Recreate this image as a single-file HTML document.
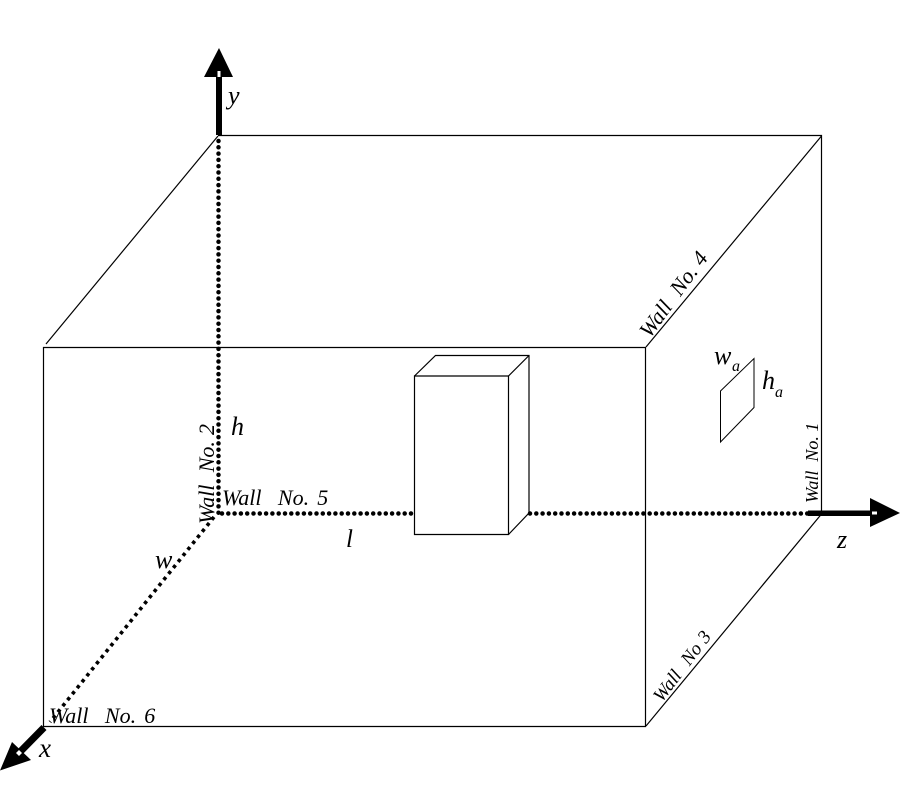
<!DOCTYPE html>
<html>
<head>
<meta charset="utf-8">
<style>
html,body{margin:0;padding:0;background:#fff;}
svg{display:block;}
text{font-family:"Liberation Serif",serif;font-style:italic;fill:#000;white-space:pre;}
</style>
</head>
<body>
<svg width="900" height="800" viewBox="0 0 900 800" xmlns="http://www.w3.org/2000/svg">
<rect width="900" height="800" fill="#fff"/>
<g fill="none" stroke="#000" stroke-width="1.2">
  <path d="M43.5 347.5H645.5V726.5H43.5Z"/>
  <path d="M218 135.5H821.5V513"/>
  <path d="M46 344L218 136"/>
  <path d="M646 347L821.5 136"/>
  <path d="M646 726L821.5 514"/>
  <path d="M414.5 376H508.5V534.5H414.5Z"/>
  <path d="M414.5 376L435.5 355.5H529V513L508.5 534.5"/>
  <path d="M508.5 376L529 355.5"/>
  <path d="M720.5 391L754 358.5V407.5L720.5 442Z" stroke-width="1"/>
</g>
<g fill="none" stroke="#000" stroke-linecap="round">
  <path d="M218.5 141V513" stroke-width="4.5" stroke-dasharray="0 6.3"/>
  <path d="M222 513.5H412" stroke-width="4.5" stroke-dasharray="0 6.3"/>
  <path d="M530 513.5H808" stroke-width="4.5" stroke-dasharray="0 6.3"/>
</g>
<path d="M214 517L50 722" fill="none" stroke="#000" stroke-width="3.6" stroke-dasharray="3.5 4.2"/>
<g fill="#000">
  <rect x="216" y="75" width="6" height="60"/>
  <path d="M219 48L204 77H233Z"/>
  <rect x="808" y="510.5" width="64" height="5.5"/>
  <path d="M870 498V527L900 513Z"/>
  <path d="M41.5 725L46.5 730L18 759L13 754Z"/>
  <path d="M0 770.5L12 742L31 760Z"/>
</g>
<g fill="#fff">
  <rect x="217.5" y="71" width="3" height="6"/>
  <rect x="872" y="511.5" width="5" height="3"/>
  <path d="M16 753L19 750L22 753L19 756Z"/>
</g>
<text x="228" y="104" font-size="26">y</text>
<text x="231" y="435" font-size="26">h</text>
<text x="346" y="547" font-size="25">l</text>
<text x="155" y="568" font-size="26">w</text>
<text x="39" y="757" font-size="27">x</text>
<text x="837" y="548" font-size="26">z</text>
<text x="714" y="364" font-size="26">w</text>
<text x="732" y="371" font-size="16">a</text>
<text x="762" y="389" font-size="26">h</text>
<text x="775" y="397" font-size="16">a</text>
<text x="222" y="505" font-size="22" word-spacing="2.7">Wall  No. 5</text>
<text x="49" y="723" font-size="22" word-spacing="2.7">Wall  No. 6</text>
<text transform="translate(214,524) rotate(-90)" font-size="22" word-spacing="0.6">Wall  No. 2</text>
<text transform="translate(818,503) rotate(-90)" font-size="18">Wall  No. 1</text>
<text transform="translate(650,339) rotate(-54)" font-size="22" word-spacing="0.6">Wall  No. 4</text>
<text transform="translate(662,703) rotate(-53)" font-size="19" word-spacing="1">Wall  No 3</text>
</svg>
</body>
</html>
